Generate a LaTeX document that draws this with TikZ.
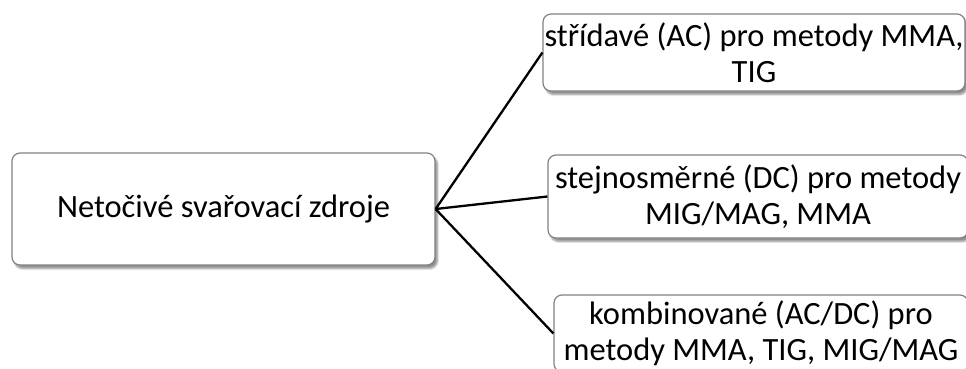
\documentclass[tikz,border=0pt]{standalone}
\usepackage{fontspec}
\setmainfont{Carlito}
\usetikzlibrary{shadows.blur}
\definecolor{boxline}{RGB}{130,130,130}
\tikzset{
  card/.style={draw=boxline, line width=1.2pt, fill=white, rounded corners=8pt,
    inner sep=0pt, align=center, font=\fontsize{32.5}{36}\selectfont,
    blur shadow={shadow xshift=2.5pt, shadow yshift=-3.5pt, shadow blur steps=6, shadow opacity=45}},
  link/.style={draw=black, line width=2.3pt}
}
\begin{document}
\begin{tikzpicture}[x=1pt,y=-1pt]
  \useasboundingbox (0,0) rectangle (966,369);
  \clip (0,0) rectangle (966,369);
  % root node
  \node[card, minimum width=423pt, minimum height=112pt] (root) at (223.5,209)
    {Netočivé svařovací zdroje};
  % branches
  \node[card, minimum width=422pt, minimum height=77pt] (ac) at (754,52.5)
    {střídavé (AC) pro metody MMA,\\TIG};
  \node[card, minimum width=420pt, minimum height=83pt] (dc) at (758,196.5)
    {stejnosměrné (DC) pro metody\\MIG/MAG, MMA};
  \node[card, minimum width=414pt, minimum height=77pt] (acdc) at (761,333.5)
    {kombinované (AC/DC) pro\\metody MMA, TIG, MIG/MAG};
  % connectors
  \draw[link] (root.east) -- (ac.west);
  \draw[link] (root.east) -- (dc.west);
  \draw[link] (root.east) -- (acdc.west);
\end{tikzpicture}
\end{document}
